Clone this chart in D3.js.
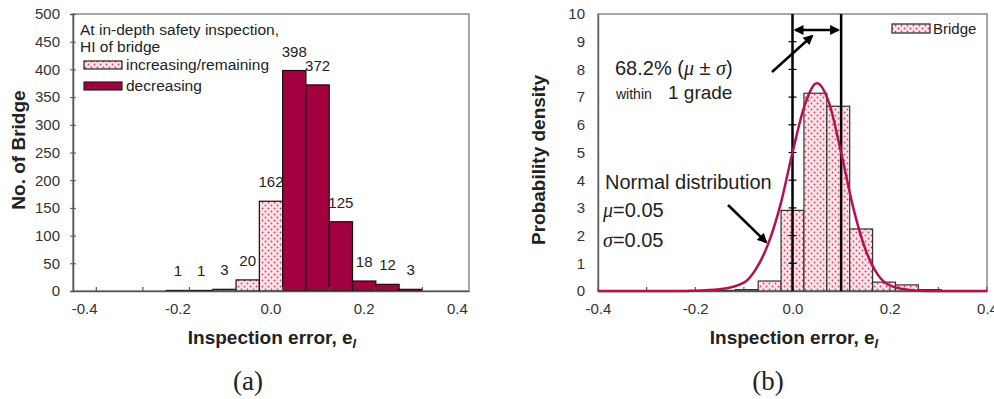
<!DOCTYPE html>
<html lang="en">
    <head>
        <meta charset="utf-8">
        <title>Inspection error histograms</title>
        <script type="text/javascript" src="https://cdn.jsdelivr.net/npm/d3@7"></script>
        <style type="text/css">
            body { margin: 0; background: #fff; }
            text { font-family: "Liberation Sans", Arial, sans-serif; fill: #222; }
            .tick text { font-size: 15px; fill: #333; }
        </style>
    </head>
    <body>
        <script type="text/javascript">
            //Data
            var binCenters = [-0.4, -0.35, -0.3, -0.25, -0.2, -0.15, -0.1, -0.05, 0, 0.05, 0.1, 0.15, 0.2, 0.25, 0.3, 0.35, 0.4];
            var increasingCounts = [0, 0, 0, 0, 1, 1, 3, 20, 162, 0, 0, 0, 0, 0, 0, 0, 0];
            var decreasingCounts = [0, 0, 0, 0, 0, 0, 0, 0, 0, 398, 372, 125, 18, 12, 3, 0, 0];
            var bridgeDensity = [0, 0, 0, 0, 0.02, 0.02, 0.05, 0.36, 2.91, 7.14, 6.67, 2.24, 0.32, 0.22, 0.05, 0, 0];

            //normal curve points as read from (b)
            var normalX = [-0.4, -0.25, -0.2, -0.15, -0.1, -0.075, -0.05, -0.025, 0, 0.025, 0.05, 0.075, 0.1, 0.125, 0.15, 0.175, 0.2, 0.25, 0.3, 0.4];
            var normalY = [0, 0, 0.01, 0.06, 0.3, 0.8, 1.7, 3.1, 5.0, 6.7, 7.5, 6.8, 5.0, 3.0, 1.5, 0.6, 0.2, 0.02, 0, 0];

            var xTickLabels = [-0.4, -0.2, 0, 0.2, 0.4];
            var xMinorTicks = [-0.3, -0.1, 0.1, 0.3];
            var countTicks = [0, 50, 100, 150, 200, 250, 300, 350, 400, 450, 500];
            var densityTicks = [0, 1, 2, 3, 4, 5, 6, 7, 8, 9, 10];

            var w = 994;
            var h = 399;
            var dark = "#a2003f";
            var curveColor = "#b3114f";

            var svg = d3.select("body")
                        .append("svg")
                        .attr("width", w)
                        .attr("height", h);

            //dotted pink fill
            var defs = svg.append("defs");
            var pat = defs.append("pattern")
                .attr("id", "dots")
                .attr("patternUnits", "userSpaceOnUse")
                .attr("width", 6)
                .attr("height", 6);
            pat.append("rect").attr("width", 6).attr("height", 6).attr("fill", "#fde2e8");
            pat.append("circle").attr("cx", 1.5).attr("cy", 1.5).attr("r", 0.9).attr("fill", "#d8406a");
            pat.append("circle").attr("cx", 4.5).attr("cy", 4.5).attr("r", 0.9).attr("fill", "#d8406a");

            function arrowMarker(id, orient) {
                defs.append("marker")
                    .attr("id", id)
                    .attr("viewBox", "0 0 10 10")
                    .attr("refX", 8).attr("refY", 5)
                    .attr("markerWidth", 4).attr("markerHeight", 4)
                    .attr("orient", orient)
                    .append("path")
                    .attr("d", "M0,0 L10,5 L0,10 z")
                    .attr("fill", "#000");
            }
            arrowMarker("arrowEnd", "auto");
            arrowMarker("arrowStart", "auto-start-reverse");

            //plain hyphen minus like the original
            var fmt = function(d) { return d.toFixed(1); };

            // ---------- (a) ----------
            var a = {left: 73, right: 469, top: 14, bottom: 291};

            var xBandA = d3.scaleBand()
                            .domain(binCenters)
                            .range([a.left, a.right])
                            .padding(0);

            var yA = d3.scaleLinear()
                        .domain([0, 500])
                        .range([a.bottom, a.top]);

            svg.append("rect")
                .attr("x", a.left).attr("y", a.top)
                .attr("width", a.right - a.left).attr("height", a.bottom - a.top)
                .attr("fill", "none").attr("stroke", "#8a8a8a").attr("stroke-width", 1.5);

            var barsA = binCenters.map(function(c, i) {
                var inc = increasingCounts[i];
                var dec = decreasingCounts[i];
                return {c: c, v: inc + dec, dec: dec > 0};
            }).filter(function(d) { return d.v > 0; });

            svg.selectAll("rect.barA")
                .data(barsA)
                .enter()
                .append("rect")
                .attr("class", "barA")
                .attr("x", function(d) { return xBandA(d.c); })
                .attr("y", function(d) { return yA(d.v); })
                .attr("width", xBandA.bandwidth())
                .attr("height", function(d) { return Math.max(yA(0) - yA(d.v), 0.8); })
                .attr("fill", function(d) { return d.dec ? dark : "url(#dots)"; })
                .attr("stroke", "#111")
                .attr("stroke-width", 1.2);

            svg.selectAll("text.lblA")
                .data(barsA)
                .enter()
                .append("text")
                .attr("class", "lblA")
                .attr("x", function(d) { return xBandA(d.c) + xBandA.bandwidth() / 2; })
                .attr("y", function(d) { return yA(d.v) - 14; })
                .attr("text-anchor", "middle")
                .attr("font-size", "15px")
                .text(function(d) { return d.v; });

            //x axis (a)
            var xAxisA = d3.axisBottom(xBandA)
                            .tickValues(xTickLabels)
                            .tickSize(0)
                            .tickPadding(12)
                            .tickFormat(fmt);
            var gxA = svg.append("g")
                .attr("transform", "translate(0," + a.bottom + ")")
                .call(xAxisA);
            gxA.select(".domain").attr("stroke", "#555").attr("stroke-width", 1.5);

            //tick marks on every other category boundary
            var boundIdx = d3.range(1, binCenters.length, 2);
            svg.selectAll("line.bndA")
                .data(boundIdx)
                .enter()
                .append("line")
                .attr("x1", function(k) { return xBandA(binCenters[k]); })
                .attr("x2", function(k) { return xBandA(binCenters[k]); })
                .attr("y1", a.bottom)
                .attr("y2", a.bottom - 4)
                .attr("stroke", "#555")
                .attr("stroke-width", 1.2);

            //y axis (a)
            var yAxisA = d3.axisLeft(yA)
                            .tickValues(countTicks)
                            .tickSize(3)
                            .tickPadding(10);
            var gyA = svg.append("g")
                .attr("transform", "translate(" + a.left + ",0)")
                .call(yAxisA);
            gyA.select(".domain").attr("stroke", "#555").attr("stroke-width", 1.5);
            gyA.selectAll(".tick line").attr("x1", 3).attr("stroke", "#555");

            //legend (a)
            svg.append("text").attr("x", 80).attr("y", 35).attr("font-size", "15.5px")
                .text("At in-depth safety inspection,");
            svg.append("text").attr("x", 80).attr("y", 52).attr("font-size", "15.5px")
                .text("HI of bridge");
            svg.append("rect").attr("x", 84).attr("y", 61).attr("width", 38).attr("height", 8)
                .attr("fill", "url(#dots)").attr("stroke", "#222").attr("stroke-width", 1.2);
            svg.append("text").attr("x", 126).attr("y", 70).attr("font-size", "15.5px")
                .text("increasing/remaining");
            svg.append("rect").attr("x", 84).attr("y", 82).attr("width", 38).attr("height", 8)
                .attr("fill", dark).attr("stroke", "#222").attr("stroke-width", 1.2);
            svg.append("text").attr("x", 126).attr("y", 91).attr("font-size", "15.5px")
                .text("decreasing");

            // ---------- (b) ----------
            var b = {left: 598, right: 987, top: 14, bottom: 291};

            var xBandB = d3.scaleBand()
                            .domain(binCenters)
                            .range([b.left, b.right])
                            .padding(0);

            var xB = d3.scaleLinear()
                        .domain([-0.4, 0.4])
                        .range([b.left, b.right]);

            var yB = d3.scaleLinear()
                        .domain([0, 10])
                        .range([b.bottom, b.top]);

            svg.append("rect")
                .attr("x", b.left).attr("y", b.top)
                .attr("width", b.right - b.left).attr("height", b.bottom - b.top)
                .attr("fill", "none").attr("stroke", "#8a8a8a").attr("stroke-width", 1.5);

            var barsB = binCenters.map(function(c, i) {
                return {c: c, v: bridgeDensity[i]};
            }).filter(function(d) { return d.v > 0; });

            svg.selectAll("rect.barB")
                .data(barsB)
                .enter()
                .append("rect")
                .attr("class", "barB")
                .attr("x", function(d) { return xBandB(d.c); })
                .attr("y", function(d) { return yB(d.v); })
                .attr("width", xBandB.bandwidth())
                .attr("height", function(d) { return Math.max(yB(0) - yB(d.v), 0.8); })
                .attr("fill", "url(#dots)")
                .attr("stroke", "#333")
                .attr("stroke-width", 1.2);

            //x axis (b)
            var xAxisB = d3.axisBottom(xB)
                            .tickValues(xTickLabels)
                            .tickSize(0)
                            .tickPadding(12)
                            .tickFormat(fmt);
            var gxB = svg.append("g")
                .attr("transform", "translate(0," + b.bottom + ")")
                .call(xAxisB);
            gxB.select(".domain").attr("stroke", "#555").attr("stroke-width", 1.5);

            svg.selectAll("line.tkB")
                .data(xMinorTicks.concat(xTickLabels))
                .enter()
                .append("line")
                .attr("x1", function(d) { return xB(d); })
                .attr("x2", function(d) { return xB(d); })
                .attr("y1", b.bottom)
                .attr("y2", b.bottom - 4)
                .attr("stroke", "#555")
                .attr("stroke-width", 1.2);

            //y axis (b)
            var yAxisB = d3.axisLeft(yB)
                            .tickValues(densityTicks)
                            .tickSize(0)
                            .tickPadding(13);
            var gyB = svg.append("g")
                .attr("transform", "translate(" + b.left + ",0)")
                .call(yAxisB);
            gyB.select(".domain").attr("stroke", "#666").attr("stroke-width", 1.5);

            //mu +- sigma lines
            var sigmaLines = [0, 0.1];
            svg.selectAll("line.sig")
                .data(sigmaLines)
                .enter()
                .append("line")
                .attr("x1", function(d) { return xB(d); })
                .attr("x2", function(d) { return xB(d); })
                .attr("y1", b.top)
                .attr("y2", b.bottom)
                .attr("stroke", "#000")
                .attr("stroke-width", 2.5);

            //cross ticks on the line at 0
            svg.selectAll("line.ct")
                .data(densityTicks.slice(1, 10))
                .enter()
                .append("line")
                .attr("x1", xB(0) - 4)
                .attr("x2", xB(0) + 4)
                .attr("y1", function(d) { return yB(d); })
                .attr("y2", function(d) { return yB(d); })
                .attr("stroke", "#000")
                .attr("stroke-width", 1.2);

            //normal curve
            var line = d3.line()
                        .x(function(d) { return xB(d[0]); })
                        .y(function(d) { return yB(d[1]); })
                        .curve(d3.curveMonotoneX);
            svg.append("path")
                .datum(d3.zip(normalX, normalY))
                .attr("d", line)
                .attr("fill", "none")
                .attr("stroke", curveColor)
                .attr("stroke-width", 2.5);

            //double arrow between the lines
            svg.append("line")
                .attr("x1", xB(0) + 3).attr("x2", xB(0.1) - 3)
                .attr("y1", 30).attr("y2", 30)
                .attr("stroke", "#000").attr("stroke-width", 2.5)
                .attr("marker-start", "url(#arrowStart)")
                .attr("marker-end", "url(#arrowEnd)");

            //pointer arrows
            svg.append("line")
                .attr("x1", 772).attr("y1", 72).attr("x2", 812).attr("y2", 36)
                .attr("stroke", "#000").attr("stroke-width", 2.5)
                .attr("marker-end", "url(#arrowEnd)");
            svg.append("line")
                .attr("x1", 728).attr("y1", 205).attr("x2", 766).attr("y2", 242)
                .attr("stroke", "#000").attr("stroke-width", 2.5)
                .attr("marker-end", "url(#arrowEnd)");

            //annotations
            var serif = "Liberation Serif, 'Times New Roman', serif";
            var t1 = svg.append("text").attr("x", 615).attr("y", 75).attr("font-size", "20px");
            t1.append("tspan").text("68.2% (");
            t1.append("tspan").style("font-family", serif).attr("font-style", "italic").text("\u03bc");
            t1.append("tspan").text(" \u00b1 ");
            t1.append("tspan").style("font-family", serif).attr("font-style", "italic").text("\u03c3");
            t1.append("tspan").text(")");

            svg.append("text").attr("x", 616).attr("y", 99).attr("font-size", "14px").text("within");
            svg.append("text").attr("x", 668).attr("y", 99).attr("font-size", "19px").text("1 grade");

            svg.append("text").attr("x", 605).attr("y", 189).attr("font-size", "20px").text("Normal distribution");
            var t2 = svg.append("text").attr("x", 603).attr("y", 217).attr("font-size", "20px");
            t2.append("tspan").style("font-family", serif).attr("font-style", "italic").text("\u03bc");
            t2.append("tspan").text("=0.05");
            var t3 = svg.append("text").attr("x", 603).attr("y", 247).attr("font-size", "20px");
            t3.append("tspan").style("font-family", serif).attr("font-style", "italic").text("\u03c3");
            t3.append("tspan").text("=0.05");

            //legend (b)
            svg.append("rect").attr("x", 892).attr("y", 24).attr("width", 38).attr("height", 9)
                .attr("fill", "url(#dots)").attr("stroke", "#222").attr("stroke-width", 1.2);
            svg.append("text").attr("x", 933).attr("y", 34).attr("font-size", "15px").text("Bridge");

            // ---------- titles ----------
            function xTitle(cx) {
                var t = svg.append("text")
                    .attr("x", cx).attr("y", 344)
                    .attr("text-anchor", "middle")
                    .attr("font-size", "19px")
                    .attr("font-weight", "bold");
                t.append("tspan").text("Inspection error, e");
                t.append("tspan").attr("font-size", "13px").attr("font-style", "italic")
                    .attr("dy", 4).text("I");
            }
            xTitle(272);
            xTitle(794);

            svg.append("text")
                .attr("transform", "translate(25,150) rotate(-90)")
                .attr("text-anchor", "middle")
                .attr("font-size", "19px")
                .attr("font-weight", "bold")
                .text("No. of Bridge");

            svg.append("text")
                .attr("transform", "translate(545,160) rotate(-90)")
                .attr("text-anchor", "middle")
                .attr("font-size", "19px")
                .attr("font-weight", "bold")
                .text("Probability density");

            svg.append("text").attr("x", 248).attr("y", 390).attr("text-anchor", "middle")
                .style("font-family", serif)
                .attr("font-size", "27px").text("(a)");
            svg.append("text").attr("x", 768).attr("y", 390).attr("text-anchor", "middle")
                .style("font-family", serif)
                .attr("font-size", "27px").text("(b)");
        </script>
    </body>
</html>
